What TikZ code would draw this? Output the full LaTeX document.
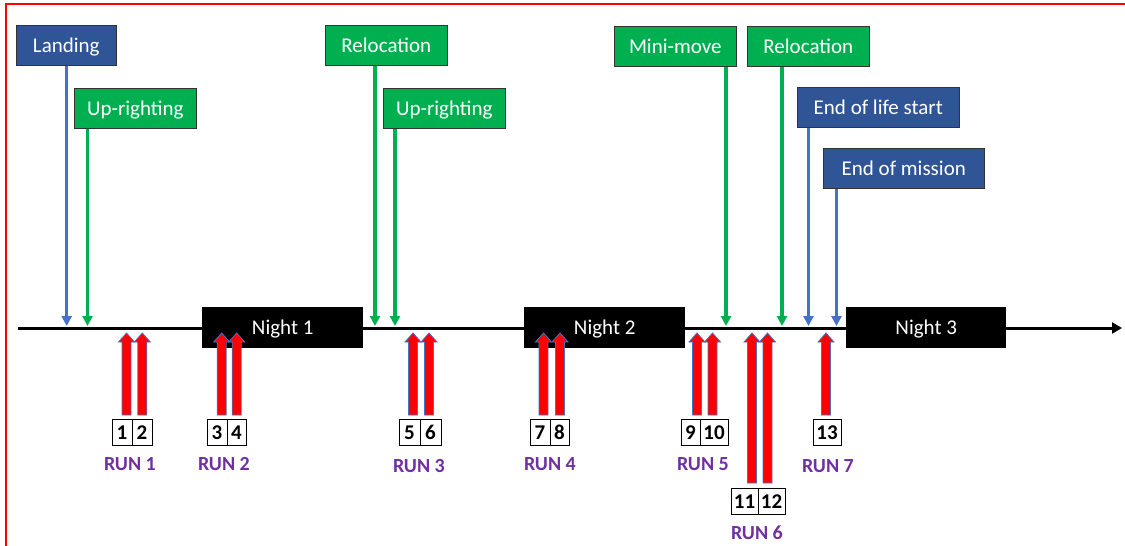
\documentclass[tikz,border=0pt]{standalone}
\usepackage{fontspec}
\setmainfont{Carlito}
\usetikzlibrary{positioning,arrows.meta,calc}
\definecolor{evblue}{RGB}{47,85,151}
\definecolor{lineblue}{RGB}{68,114,196}
\definecolor{evgreen}{RGB}{0,176,80}
\definecolor{runpurple}{RGB}{112,48,160}
\definecolor{framered}{RGB}{255,0,0}

% block arrow pointing up to the time line: x, bottom y
\newcommand{\runarrow}[2]{%
  \filldraw[runfill] (#1-4.5,#2) -- (#1-4.5,342) -- (#1-8,342) -- (#1,333)
    -- (#1+8,342) -- (#1+4.5,342) -- (#1+4.5,#2) -- cycle;}

\begin{document}
\begin{tikzpicture}[
    x=1pt, y=-1pt,
    event/.style={draw=black!80, line width=0.6pt, minimum height=40pt, anchor=north west, inner sep=0pt, text=white, text height=13.5pt, text depth=0pt, font=\fontsize{21}{25}\selectfont},
    night/.style={fill=black, minimum height=41pt, anchor=north west, inner sep=0pt, text=white, text height=13.5pt, text depth=0pt, font=\fontsize{21}{25}\selectfont},
    evarrow/.style={line width=3.2pt, -{Triangle[length=10pt, width=10pt]}},
    runfill/.style={fill=red, draw=lineblue, line width=0.8pt},
    numcell/.style={draw=black, line width=0.8pt, fill=white, minimum width=20pt, minimum height=26pt, inner sep=0pt, outer sep=0pt, text height=14pt, text depth=0pt, font=\bfseries\fontsize{21}{24}\selectfont},
    runlabel/.style={text=runpurple, font=\bfseries\fontsize{20}{24}\selectfont}
]
    \useasboundingbox (0,0) rectangle (1125,546);
    \draw[framered, line width=2pt] (6,546) -- (6,4) -- (1125,4);

    % Time line
    \coordinate (tstart) at (18,328);
    \coordinate (tend) at (1122,328);
    \draw[line width=3pt, -{Triangle[length=10pt, width=11pt]}] (tstart) -- (tend);

    % Nights
    \node[night, minimum width=161pt] (night1) at (202,307) {Night 1};
    \node[night, minimum width=161pt] (night2) at (524,307) {Night 2};
    \node[night, minimum width=160pt] (night3) at (846,307) {Night 3};

    % Events
    \node[event, fill=evblue, minimum width=100pt] (land) at (16,25) {Landing};
    \node[event, fill=evgreen, minimum width=122pt] (upr1) at (74,88) {Up-righting};
    \node[event, fill=evgreen, minimum width=122pt] (reloc1) at (325,25) {Relocation};
    \node[event, fill=evgreen, minimum width=122pt] (upr2) at (383,88) {Up-righting};
    \node[event, fill=evgreen, minimum width=122pt] (mini) at (614,26) {Mini-move};
    \node[event, fill=evgreen, minimum width=122pt] (reloc2) at (747,26) {Relocation};
    \node[event, fill=evblue, minimum width=162pt] (eol) at (797,87) {End of life start};
    \node[event, fill=evblue, minimum width=161pt] (eom) at (823,148) {End of mission};

    \coordinate (tland) at (66.7,326);
    \coordinate (tupr1) at (87.5,326);
    \coordinate (treloc1) at (375,326);
    \coordinate (tupr2) at (395,326);
    \coordinate (tmini) at (726,326);
    \coordinate (treloc2) at (782,326);
    \coordinate (teol) at (808.5,326);
    \coordinate (teom) at (836.5,326);

    \draw[evarrow, lineblue] (tland |- land.south) -- (tland);
    \draw[evarrow, evgreen] (tupr1 |- upr1.south) -- (tupr1);
    \draw[evarrow, evgreen] (treloc1 |- reloc1.south) -- (treloc1);
    \draw[evarrow, evgreen] (tupr2 |- upr2.south) -- (tupr2);
    \draw[evarrow, evgreen] (tmini |- mini.south) -- (tmini);
    \draw[evarrow, evgreen] (treloc2 |- reloc2.south) -- (treloc2);
    \draw[evarrow, lineblue] (teol |- eol.south) -- (teol);
    \draw[evarrow, lineblue] (teom |- eom.south) -- (teom);

    % Runs
    \runarrow{126.5}{415} \runarrow{142.3}{415}
    \runarrow{221.7}{415} \runarrow{236.7}{415}
    \runarrow{413}{415} \runarrow{429}{415}
    \runarrow{543.5}{415} \runarrow{560}{415}
    \runarrow{697}{415} \runarrow{712.5}{415}
    \runarrow{752}{483} \runarrow{767.5}{483}
    \runarrow{826}{415}

    \node[numcell, anchor=north west] (n1) at (112,419) {1};
    \node[numcell, right=0pt of n1] (n2) {2};
    \node[numcell, anchor=north west] (n3) at (207,419) {3};
    \node[numcell, right=0pt of n3, minimum width=19pt] (n4) {4};
    \node[numcell, anchor=north west, minimum width=21pt] (n5) at (399,419) {5};
    \node[numcell, right=0pt of n5, minimum width=21pt] (n6) {6};
    \node[numcell, anchor=north west] (n7) at (530,419) {7};
    \node[numcell, right=0pt of n7, minimum width=19pt] (n8) {8};
    \node[numcell, anchor=north west, minimum width=19pt] (n9) at (681,419) {9};
    \node[numcell, right=0pt of n9, minimum width=28pt] (n10) {10};
    \node[numcell, anchor=north west, minimum width=27pt] (n11) at (731,488) {11};
    \node[numcell, right=0pt of n11, minimum width=27pt] (n12) {12};
    \node[numcell, anchor=north west, minimum width=28pt] (n13) at (813,419) {13};

    \node[runlabel] (run1) at (130,464) {RUN 1};
    \node[runlabel] (run2) at (224,464) {RUN 2};
    \node[runlabel] (run3) at (419,466) {RUN 3};
    \node[runlabel] (run4) at (550,464) {RUN 4};
    \node[runlabel] (run5) at (703,464) {RUN 5};
    \node[runlabel] (run6) at (757,533) {RUN 6};
    \node[runlabel] (run7) at (828,466) {RUN 7};
\end{tikzpicture}
\end{document}
